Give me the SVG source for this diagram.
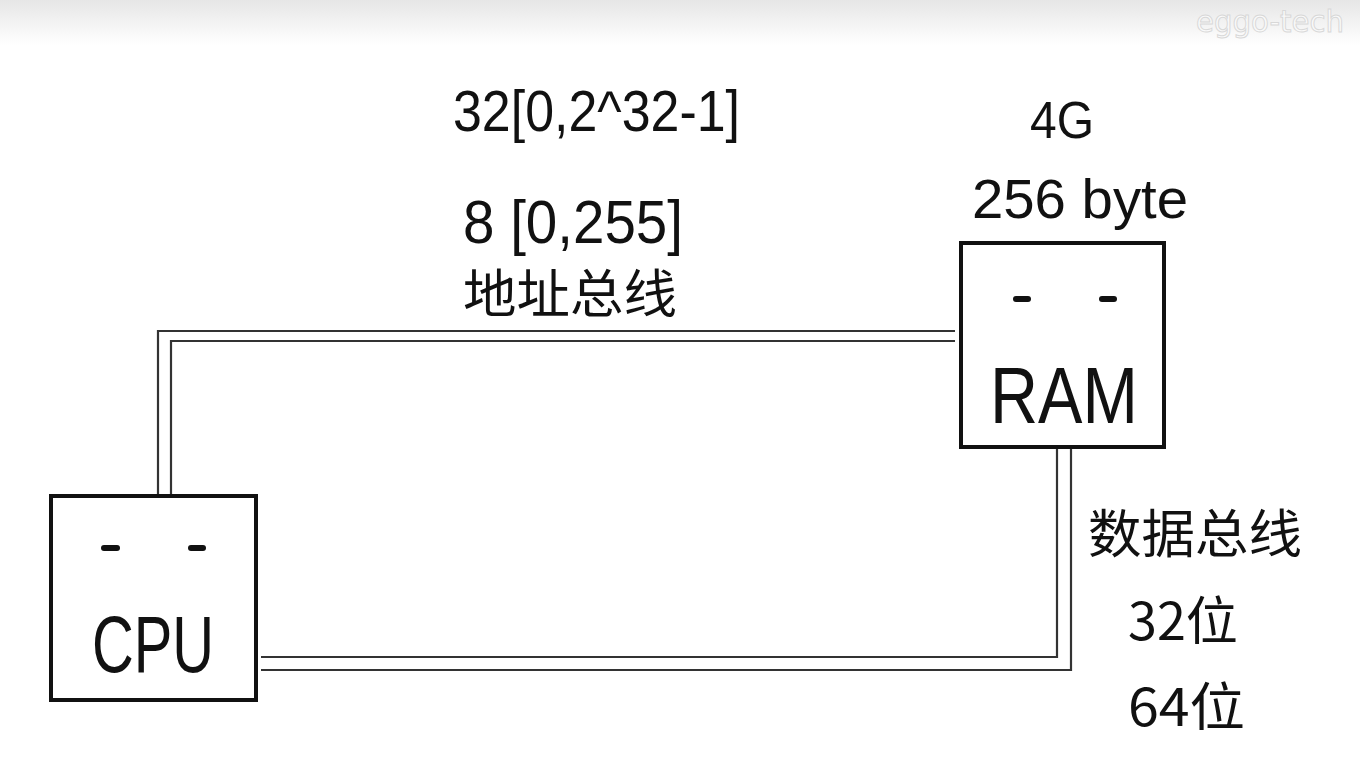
<svg xmlns="http://www.w3.org/2000/svg" width="1360" height="771" viewBox="0 0 1360 771">
<defs>
<linearGradient id="topfade" x1="0" y1="0" x2="0" y2="1">
<stop offset="0" stop-color="#e6e6e6"/>
<stop offset="1" stop-color="#ffffff"/>
</linearGradient>
</defs>
<style>
.box{fill:#fff;stroke:#111;stroke-width:4}
.bus{fill:none;stroke:#333;stroke-width:2.2}
.dash{stroke:#111;stroke-width:6;stroke-linecap:round}
.lbl{font-family:"Liberation Sans","DejaVu Sans",sans-serif;fill:#111}
.cjk{font-family:"Noto Sans CJK SC",sans-serif;fill:#111;font-weight:400}
.big{font-family:"Liberation Sans","DejaVu Sans",sans-serif;fill:#111;font-size:80px}
.wm{font-family:"DejaVu Sans",sans-serif;font-size:30px;fill:#fafafa;stroke:#d8d8d8;stroke-width:1}
</style>
<rect x="0" y="0" width="1360" height="771" fill="#fff"/>
<rect x="0" y="0" width="1360" height="45" fill="url(#topfade)"/>
<text class="wm" x="1196" y="32" textLength="148" lengthAdjust="spacingAndGlyphs">eggo-tech</text>
<g id="connectors">
<path class="bus" d="M158,496 V331 H955"/>
<path class="bus" d="M171,496 V341 H955"/>
<path class="bus" d="M261,657 H1057 V449"/>
<path class="bus" d="M261,670 H1071 V449"/>
</g>
<g id="cpu">
<rect class="box" x="51" y="496" width="205" height="204"/>
<line class="dash" x1="104" y1="548" x2="117" y2="548"/>
<line class="dash" x1="191" y1="548" x2="203" y2="548"/>
<text class="big" x="92" y="672" textLength="122" lengthAdjust="spacingAndGlyphs">CPU</text>
</g>
<g id="ram">
<rect class="box" x="961" y="243" width="203" height="204"/>
<line class="dash" x1="1016" y1="299" x2="1028" y2="299"/>
<line class="dash" x1="1102" y1="299" x2="1114" y2="299"/>
<text class="big" x="990" y="423" textLength="148" lengthAdjust="spacingAndGlyphs">RAM</text>
</g>
<g id="labels">
<text class="lbl" x="453" y="131" font-size="58" textLength="287" lengthAdjust="spacingAndGlyphs">32[0,2^32-1]</text>
<text class="lbl" x="463" y="243" font-size="62" textLength="220" lengthAdjust="spacingAndGlyphs">8 [0,255]</text>
<text class="cjk" x="463" y="313" font-size="52" textLength="214" lengthAdjust="spacingAndGlyphs">地址总线</text>
<text class="lbl" x="1030" y="138" font-size="52" textLength="64" lengthAdjust="spacingAndGlyphs">4G</text>
<text class="lbl" x="972" y="218" font-size="56" textLength="216" lengthAdjust="spacingAndGlyphs">256 byte</text>
<text class="cjk" x="1088" y="553" font-size="52" textLength="214" lengthAdjust="spacingAndGlyphs">数据总线</text>
<text class="cjk" x="1128" y="640" font-size="52" textLength="110" lengthAdjust="spacingAndGlyphs">32位</text>
<text class="cjk" x="1128" y="726" font-size="52" textLength="117" lengthAdjust="spacingAndGlyphs">64位</text>
</g>
</svg>
